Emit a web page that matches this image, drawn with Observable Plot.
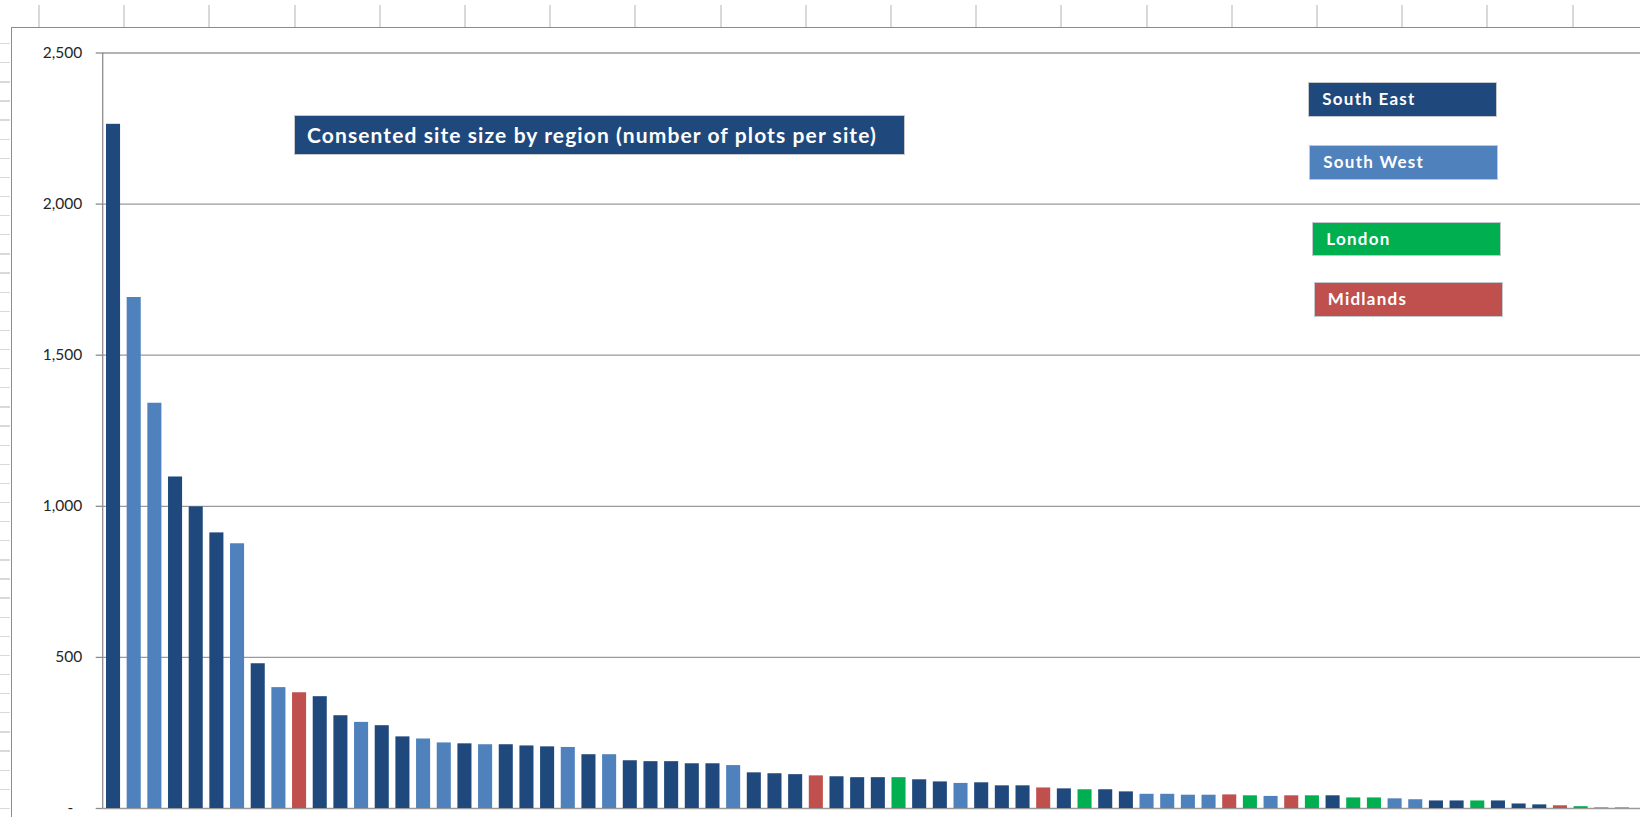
<!DOCTYPE html>
<html><head><meta charset="utf-8">
<script src="https://cdn.jsdelivr.net/npm/d3@7"></script>
<script src="https://cdn.jsdelivr.net/npm/@observablehq/plot@0.6"></script>
<style>
html,body{margin:0;padding:0;background:#fff;}
#wrap{position:relative;width:1640px;height:817px;overflow:hidden;font-family:Lato,"Open Sans",sans-serif;background:#fff;}
#sheetTop{position:absolute;left:0;top:5px;width:1640px;height:22px;
  background:repeating-linear-gradient(to right,transparent 0,transparent 38px,#d9d9d9 38px,#d9d9d9 40px,transparent 40px,transparent 85.2px);}
#sheetLeft{position:absolute;left:0;top:34px;width:10px;height:783px;
  background:repeating-linear-gradient(to bottom,transparent 0,transparent 9px,#d9d9d9 9px,#d9d9d9 10.3px,transparent 10.3px,transparent 19.12px);}
#border{position:absolute;left:11px;top:27px;width:1640px;height:800px;border-left:1.3px solid #8c8c8c;border-top:1.3px solid #8c8c8c;box-sizing:border-box;}
#chart{position:absolute;left:0;top:0;}
.box{position:absolute;box-sizing:border-box;border:1.3px solid #c4c8cc;color:#fff;font-weight:700;white-space:nowrap;}
#title{left:294px;top:115px;width:611px;height:40px;line-height:37px;padding-left:12px;font-size:21px;letter-spacing:1.1px;background:#1F497D;}
.leg{width:189px;height:34.4px;line-height:32px;font-size:17px;letter-spacing:1.25px;padding-left:13px;}
</style></head>
<body>
<div id="wrap">
  <div id="sheetTop"></div>
  <div id="sheetLeft"></div>
  <div id="border"></div>
  <div id="chart"></div>
  <div id="title" class="box"></div>
  <div id="legend"></div>
</div>
<script>
// ---- data ----
const regionNames = ["South East", "South West", "London", "Midlands"];
const regionColors = ["#1F497D", "#4F81BD", "#00B050", "#C0504D"];
const siteRegions = [
  "South East","South West","South West","South East","South East","South East","South West","South East","South West","Midlands",
  "South East","South East","South West","South East","South East","South West","South West","South East","South West","South East",
  "South East","South East","South West","South East","South West","South East","South East","South East","South East","South East",
  "South West","South East","South East","South East","Midlands","South East","South East","South East","London","South East",
  "South East","South West","South East","South East","South East","Midlands","South East","London","South East","South East",
  "South West","South West","South West","South West","Midlands","London","South West","Midlands","London","South East",
  "London","London","South West","South West","South East","South East","London","South East","South East","South East",
  "Midlands","London","South West","South West"
];
const sitePlots = [
  2264,1691,1341,1097,998,912,876,479,400,383,
  370,307,285,274,237,230,217,214,211,211,
  207,204,202,178,178,158,155,155,148,148,
  142,118,115,112,108,105,102,102,102,95,
  88,83,85,75,75,68,65,62,62,55,
  47,47,44,44,45,42,40,42,42,42,
  35,35,32,29,25,25,25,25,15,12,
  9,6,2,2
];
const yTicks = [0, 500, 1000, 1500, 2000, 2500];
const yTickLabels = ["-\u2007", "500", "1,000", "1,500", "2,000", "2,500"];
const chartTitle = "Consented site size by region (number of plots per site)";

const sites = sitePlots.map((v, i) => ({site: i + 1, region: siteRegions[i], plots: v}));

const chart = Plot.plot({
  width: 1640,
  height: 817,
  marginLeft: 102.7,
  marginRight: 0,
  marginTop: 52.5,
  marginBottom: 9,
  style: {background: "transparent", fontFamily: "Lato, 'Open Sans', sans-serif", fontSize: "15.5px", color: "#262626", overflow: "visible"},
  x: {type: "band", domain: sites.map(d => d.site), range: [102.7, 1632.3], paddingInner: 0.32, paddingOuter: 0.16, round: false, axis: null},
  y: {domain: [0, 2500], axis: null},
  color: {domain: regionNames, range: regionColors},
  marks: [
    Plot.ruleY(yTicks, {stroke: "#9a9a9a", strokeWidth: 1.3}),
    Plot.axisY({ticks: yTicks, tickFormat: d => yTickLabels[yTicks.indexOf(d)], tickSize: 7, tickPadding: 14, stroke: "#8c8c8c", strokeWidth: 1.3, fill: "#262626", label: null}),
    (index, scales, values, dims) => {
      const line = document.createElementNS("http://www.w3.org/2000/svg", "line");
      line.setAttribute("x1", dims.marginLeft);
      line.setAttribute("x2", dims.marginLeft);
      line.setAttribute("y1", scales.y(2500));
      line.setAttribute("y2", scales.y(0));
      line.setAttribute("stroke", "#8c8c8c");
      line.setAttribute("stroke-width", 1.3);
      return line;
    },
    Plot.barY(sites, {x: "site", y: "plots", fill: "region"})
  ]
});
document.getElementById("chart").appendChild(chart);

document.getElementById("title").textContent = chartTitle;

const legendTops = [82.3, 145.3, 221.7, 282.3];
const legendLefts = [1308.3, 1309.3, 1312.3, 1313.7];
const leg = document.getElementById("legend");
regionNames.forEach((name, i) => {
  const d = document.createElement("div");
  d.className = "box leg";
  d.style.left = legendLefts[i] + "px";
  d.style.top = legendTops[i] + "px";
  d.style.background = regionColors[i];
  d.textContent = name;
  leg.appendChild(d);
});
</script>
</body></html>
